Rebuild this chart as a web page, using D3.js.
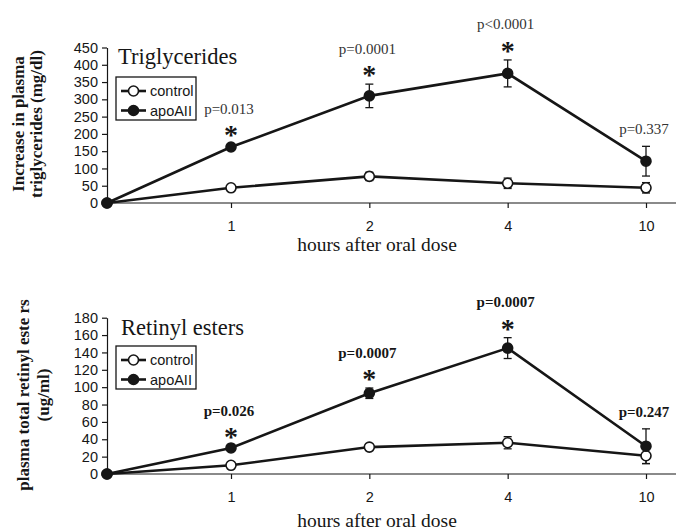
<!DOCTYPE html>
<html>
<head>
<meta charset="utf-8">
<script src="https://cdn.jsdelivr.net/npm/d3@7"></script>
<style>
  html, body { margin: 0; padding: 0; background: #fff; }
  svg { display: block; }
</style>
</head>
<body>
<svg id="chart" width="676" height="532"></svg>
<script>
// ---------------- DATA ----------------
const categories = ["0", "1", "2", "4", "10"];
const tickCategories = ["1", "2", "4", "10"];
const seriesNames = ["control", "apoAII"];

// Triglycerides panel
const tgControl    = [0, 44, 77, 57, 44];
const tgControlErr = [0, 5, 12, 15, 15];
const tgApoAII     = [0, 162, 310, 375, 121];
const tgApoAIIErr  = [0, 0, 34, 39, 43];
const tgTicks      = [0, 50, 100, 150, 200, 250, 300, 350, 400, 450];
const tgPLabels    = ["p=0.013", "p=0.0001", "p<0.0001", "p=0.337"];
const tgStars      = [true, true, true, false];

// Retinyl esters panel
const reControl    = [0, 10, 31, 36, 21];
const reControlErr = [0, 1, 2, 7, 9];
const reApoAII     = [0, 30, 93, 145, 32];
const reApoAIIErr  = [0, 2, 6, 12, 20];
const reTicks      = [0, 20, 40, 60, 80, 100, 120, 140, 160, 180];
const rePLabels    = ["p=0.026", "p=0.0007", "p=0.0007", "p=0.247"];
const reStars      = [true, true, true, false];

// ---------------- DRAW ----------------
const svg = d3.select("#chart");
svg.append("rect").attr("width", 676).attr("height", 532).attr("fill", "#fff");

const serif = "'Liberation Serif', 'Times New Roman', serif";
const sans = "'Liberation Sans', Arial, sans-serif";
const ink = "#161616";

const axisLeftX = 107, axisRightX = 676;
const xp = d3.scalePoint().domain(tickCategories).range([231, 646]);
const x = c => (c === categories[0] ? axisLeftX : xp(c));

function panel(cfg) {
  const g = svg.append("g");
  const y = d3.scaleLinear().domain([0, cfg.ticks[cfg.ticks.length - 1]]).range([cfg.y0, cfg.yTop]);

  // y axis
  const ya = g.append("g").attr("transform", `translate(${axisLeftX},0)`)
    .call(d3.axisLeft(y).tickValues(cfg.ticks).tickSize(5).tickSizeOuter(0).tickPadding(4));
  ya.selectAll("path, line").attr("stroke", ink).attr("stroke-width", 1.2);
  ya.selectAll("text").attr("font-family", sans).attr("font-size", 14.5).attr("fill", ink);

  // x axis
  g.append("line").attr("x1", axisLeftX).attr("x2", axisRightX)
    .attr("y1", cfg.y0).attr("y2", cfg.y0).attr("stroke", ink).attr("stroke-width", 1.2);
  const xa = g.append("g").attr("transform", `translate(0,${cfg.y0})`)
    .call(d3.axisBottom(xp).tickSize(5).tickPadding(13));
  xa.select(".domain").remove();
  xa.selectAll("line").attr("stroke", ink).attr("stroke-width", 1.2);
  xa.selectAll("text").attr("font-family", sans).attr("font-size", 14.5).attr("fill", ink);

  // x title
  g.append("text").attr("x", 377).attr("y", cfg.xTitleY).attr("text-anchor", "middle")
    .attr("font-family", serif).attr("font-size", 19.5).attr("fill", ink)
    .text("hours after oral dose");

  // y title (two lines)
  cfg.yTitle.forEach((t, i) => {
    g.append("text")
      .attr("transform", `translate(${cfg.yTitleX[i]},${cfg.yTitleCY}) rotate(-90)`)
      .attr("text-anchor", "middle")
      .attr("font-family", serif).attr("font-weight", "bold").attr("font-size", 17)
      .attr("fill", ink).text(t);
  });

  // panel title
  g.append("text").attr("x", cfg.titleX).attr("y", cfg.titleY)
    .attr("font-family", serif).attr("font-size", 22.5).attr("fill", ink).text(cfg.title);

  const series = [
    { name: seriesNames[0], v: cfg.control, e: cfg.controlErr, fill: "#fff" },
    { name: seriesNames[1], v: cfg.apo, e: cfg.apoErr, fill: ink }
  ];
  const line = d3.line().x((d, i) => x(categories[i])).y(d => y(d));

  series.forEach(s => {
    g.append("path").datum(s.v).attr("d", line)
      .attr("fill", "none").attr("stroke", ink).attr("stroke-width", 2.6);
  });
  series.forEach(s => {
    s.v.forEach((v, i) => {
      if (!s.e[i]) return;
      const cx = x(categories[i]);
      const y1 = y(v + s.e[i]), y2 = y(v - s.e[i]);
      g.append("line").attr("x1", cx).attr("x2", cx).attr("y1", y1).attr("y2", y2)
        .attr("stroke", ink).attr("stroke-width", 1.3);
      [y1, y2].forEach(yy => g.append("line").attr("x1", cx - 4).attr("x2", cx + 4)
        .attr("y1", yy).attr("y2", yy).attr("stroke", ink).attr("stroke-width", 1.3));
    });
  });
  series.forEach(s => {
    g.selectAll(null).data(s.v).enter().append("circle")
      .attr("cx", (d, i) => x(categories[i])).attr("cy", d => y(d)).attr("r", 5)
      .attr("fill", s.fill).attr("stroke", ink).attr("stroke-width", 1.6);
  });

  // p-value annotations
  cfg.pLabels.forEach((p, k) => {
    const i = k + 1;
    const cx = x(categories[i]);
    const top = y(cfg.apo[i] + cfg.apoErr[i]) - (cfg.apoErr[i] ? 0 : 3);
    let baseY;
    if (cfg.stars[k]) {
      const starC = top - 14;
      g.append("text").attr("x", cx).attr("y", starC + 14).attr("text-anchor", "middle")
        .attr("font-family", serif).attr("font-weight", "bold").attr("font-size", 28)
        .attr("fill", ink).text("*");
      baseY = starC - 16.5;
    } else {
      baseY = top - 12;
    }
    g.append("text").attr("x", cx - 2).attr("y", baseY).attr("text-anchor", "middle")
      .attr("font-family", serif).attr("font-weight", cfg.boldP ? "bold" : "normal")
      .attr("font-size", 15).attr("fill", cfg.boldP ? ink : "#333").text(p);
  });

  // legend
  const lg = g.append("g");
  lg.append("rect").attr("x", 116).attr("y", cfg.legendY).attr("width", 80).attr("height", 43)
    .attr("fill", "#fff").attr("stroke", ink).attr("stroke-width", 1.3);
  series.forEach((s, i) => {
    const cy = cfg.legendY + 14 + i * 19.5;
    lg.append("line").attr("x1", 121).attr("x2", 146).attr("y1", cy).attr("y2", cy)
      .attr("stroke", ink).attr("stroke-width", 2.6);
    lg.append("circle").attr("cx", 133.5).attr("cy", cy).attr("r", 5)
      .attr("fill", s.fill).attr("stroke", ink).attr("stroke-width", 1.6);
    lg.append("text").attr("x", 150).attr("y", cy + 5)
      .attr("font-family", sans).attr("font-size", 14.5).attr("fill", ink).text(s.name);
  });
}

panel({
  y0: 203, yTop: 47.5, ticks: tgTicks,
  control: tgControl, controlErr: tgControlErr, apo: tgApoAII, apoErr: tgApoAIIErr,
  pLabels: tgPLabels, stars: tgStars, boldP: false,
  title: "Triglycerides", titleX: 118, titleY: 64,
  yTitle: ["Increase in plasma", "triglycerides (mg/dl)"], yTitleX: [24, 42], yTitleCY: 124,
  xTitleY: 251, legendY: 77
});

panel({
  y0: 474, yTop: 317.7, ticks: reTicks,
  control: reControl, controlErr: reControlErr, apo: reApoAII, apoErr: reApoAIIErr,
  pLabels: rePLabels, stars: reStars, boldP: true,
  title: "Retinyl esters", titleX: 121, titleY: 335,
  yTitle: ["plasma total retinyl este rs", "(ug/ml)"], yTitleX: [29, 49], yTitleCY: 395,
  xTitleY: 527, legendY: 346
});
</script>
</body>
</html>
